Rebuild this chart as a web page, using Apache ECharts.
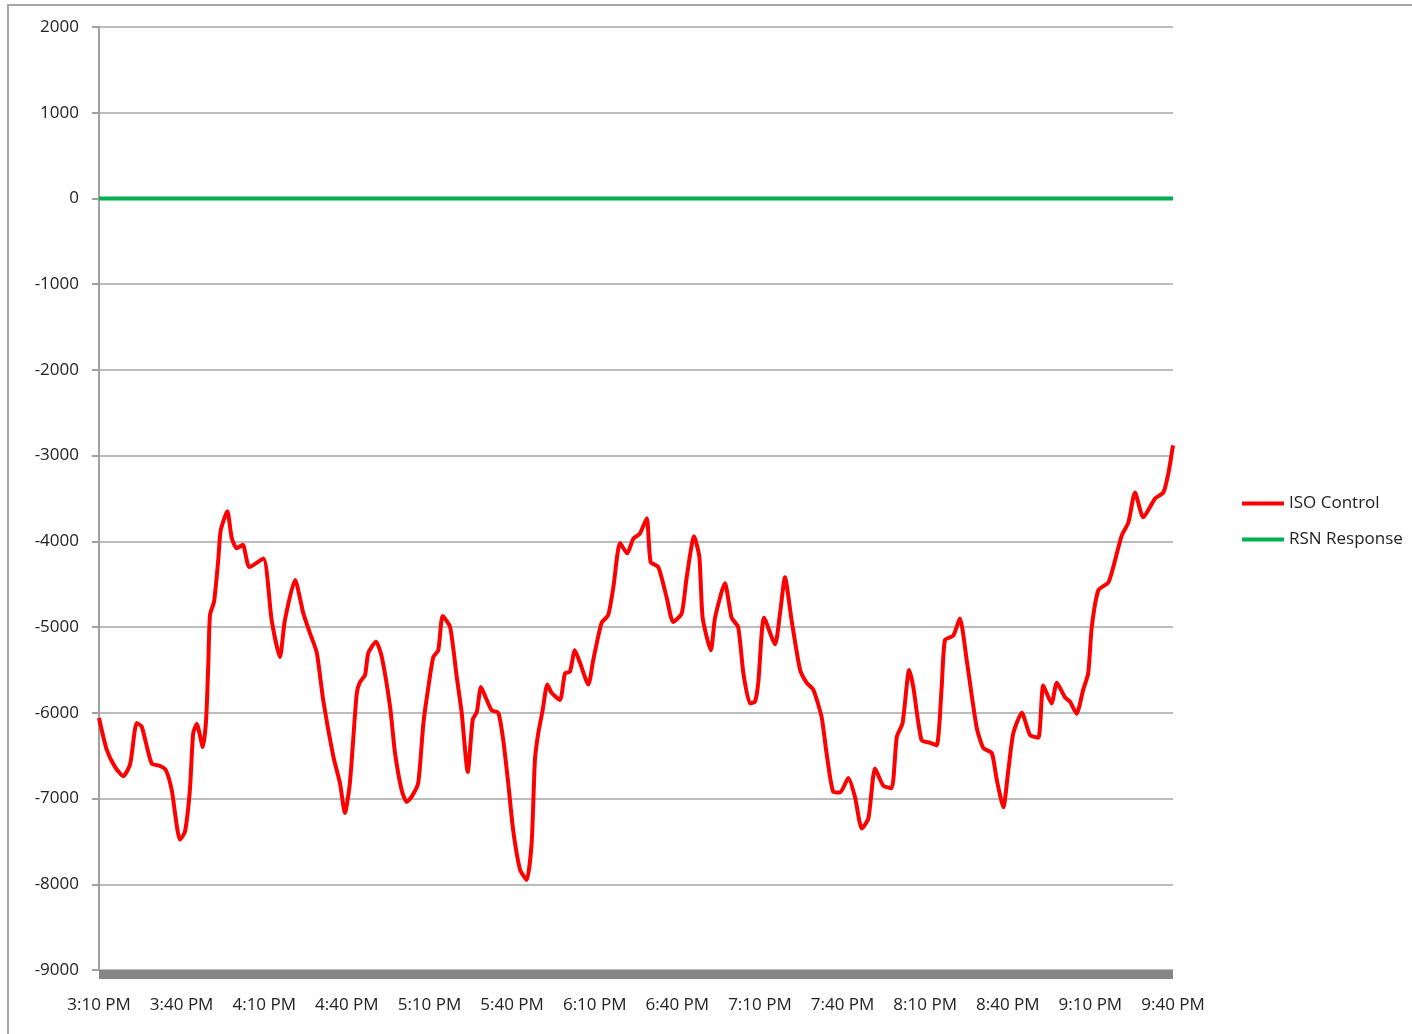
<!DOCTYPE html>
<html>
<head>
<meta charset="utf-8">
<title>ISO Control vs RSN Response</title>
<script src="https://cdn.jsdelivr.net/npm/echarts@6/dist/echarts.min.js"></script>
<style>
  html, body { margin: 0; padding: 0; background: #fff; }
  #main { width: 1412px; height: 1034px; }
</style>
</head>
<body>
<div id="main"></div>
<script>
// x values are minutes after 3:10 PM
var tickLabels = ['3:10 PM', '3:40 PM', '4:10 PM', '4:40 PM', '5:10 PM', '5:40 PM', '6:10 PM',
  '6:40 PM', '7:10 PM', '7:40 PM', '8:10 PM', '8:40 PM', '9:10 PM', '9:40 PM']

var isoMinutes = [0, 2.8, 5.8, 8.8, 11.3, 13.7, 15.5, 19.1, 22.2, 24.3, 26.4, 29.4, 31.2, 33.0,
  34.2, 35.5, 37.7, 38.9, 39.7, 40.3, 41.8, 43.3, 44.2, 46.6, 48.2, 50.0, 52.2, 54.6, 59.7,
  62.7, 65.7, 67.5, 71.2, 74.2, 76.6, 79.1, 81.4, 85.1, 87.5, 89.3, 91.1, 93.6, 94.8, 96.6,
  97.8, 100.6, 102.7, 105.7, 107.5, 109.9, 111.7, 113.5, 115.9, 117.8, 119.6, 121.4, 123.2,
  124.8, 127.5, 129.9, 131.7, 133.9, 135.7, 137.2, 138.7, 140.8, 142.6, 145.0, 146.8, 148.6,
  150.4, 152.9, 155.3, 157.1, 158.3, 159.5, 161.1, 162.8, 164.4, 167.4, 169.2, 171.0, 172.8,
  174.7, 177.7, 179.5, 182.5, 184.9, 186.8, 189.2, 191.8, 194.0, 196.4, 198.9, 200.3, 203.1,
  206.1, 208.5, 211.6, 213.4, 216.1, 218.0, 219.2, 222.2, 223.7, 227.3, 229.7, 232.1, 234.0,
  236.4, 238.2, 239.4, 241.5, 245.5, 247.3, 249.1, 251.5, 254.6, 257.0, 259.4, 262.4, 264.2,
  266.6, 269.1, 272.1, 274.5, 277.0, 279.4, 281.8, 284.8, 287.8, 289.7, 291.8, 294.2, 295.7,
  298.7, 301.8, 304.2, 306.0, 307.2, 310.2, 312.6, 315.1, 318.7, 321.1, 324.2, 326.0, 328.4,
  330.2, 332.0, 335.1, 338.1, 341.1, 342.9, 345.9, 347.8, 350.8, 352.6, 355.0, 357.4, 359.2,
  360.5, 362.9, 366.5, 368.3, 371.4, 373.8, 376.2, 379.2, 383.5, 386.5, 388.3, 390]

var isoValues = [-6060, -6430, -6630, -6740, -6600, -6120, -6160, -6590, -6620, -6670, -6900, -7480, -7390, -6900,
  -6240, -6130, -6400, -6080, -5420, -4860, -4700, -4220, -3870, -3650, -3960, -4080, -4040, -4300, -4200,
  -4920, -5350, -4920, -4450, -4840, -5070, -5300, -5850, -6510, -6820, -7170, -6820, -5770, -5640, -5560,
  -5300, -5170, -5350, -5930, -6470, -6900, -7040, -6980, -6820, -6120, -5700, -5350, -5270,
  -4870, -5000, -5580, -6000, -6690, -6080, -5990, -5700, -5850, -5970, -6000, -6320, -6820,
  -7370, -7830, -7950, -7520, -6550, -6240, -5970, -5670, -5770, -5850, -5540, -5520, -5270,
  -5420, -5670, -5380, -4950, -4860, -4530, -4020, -4140, -3970, -3910, -3730, -4240, -4300,
  -4650, -4940, -4840, -4420, -3940, -4180, -4890, -5270, -4890, -4490, -4890, -5000, -5540,
  -5890, -5870, -5650, -4890, -5200, -4840, -4420, -4920, -5500, -5650, -5730, -6050, -6470,
  -6920, -6930, -6760, -6980, -7350, -7230, -6650, -6850, -6880, -6280, -6120, -5500, -5700,
  -6320, -6350, -6380, -5700, -5150, -5100, -4900, -5390, -6170, -6410, -6470, -6780, -7100,
  -6670, -6240, -6000, -6260, -6290, -5680, -5890, -5650, -5820, -5870, -6010, -5730, -5540,
  -5000, -4570, -4480, -4300, -3930, -3780, -3430, -3720, -3500, -3430, -3210, -2880]

var rsnMinutes = [0, 390]
var rsnValues = [0, 0]

function pairs (xs, ys) {
  return xs.map(function (x, i) { return [x, ys[i]] })
}

var labelFont = '"Open Sans", "Noto Sans", sans-serif'

var myChart = echarts.init(document.getElementById('main'))
myChart.setOption({
  animation: false,
  backgroundColor: '#fff',
  graphic: [{
    type: 'rect',
    shape: { x: 8, y: 5, width: 1420, height: 1040 },
    style: { fill: 'none', stroke: '#a6a6a6', lineWidth: 2 },
    silent: true
  }],
  grid: { left: 99, top: 27, right: 239, bottom: 64 },
  legend: {
    orient: 'vertical',
    left: 1242,
    top: 495,
    padding: 0,
    itemWidth: 42,
    itemHeight: 4,
    itemGap: 19,
    icon: 'rect',
    textStyle: { fontFamily: labelFont, fontSize: 17, color: '#222' },
    data: ['ISO Control', 'RSN Response']
  },
  xAxis: {
    type: 'value',
    min: 0,
    max: 390,
    interval: 30,
    offset: 4,
    axisLine: { show: true, onZero: false, lineStyle: { color: '#868686', width: 9, cap: 'butt' } },
    axisTick: { show: false },
    splitLine: { show: false },
    axisLabel: {
      margin: 23,
      fontFamily: labelFont,
      fontSize: 17,
      color: '#222',
      formatter: function (v) { return tickLabels[Math.round(v / 30)] }
    }
  },
  yAxis: {
    type: 'value',
    min: -9000,
    max: 2000,
    interval: 1000,
    axisLine: { show: true, lineStyle: { color: '#a0a0a0', width: 2 } },
    axisTick: { show: true, length: 7, lineStyle: { color: '#a0a0a0', width: 2 } },
    splitLine: { show: true, lineStyle: { color: '#a6a6a6', width: 1.5 } },
    axisLabel: {
      margin: 20,
      fontFamily: labelFont,
      fontSize: 17,
      color: '#222',
      formatter: function (v) { return String(v) }
    }
  },
  series: [
    {
      name: 'ISO Control',
      type: 'line',
      data: pairs(isoMinutes, isoValues),
      showSymbol: false,
      smooth: 0.2,
      itemStyle: { color: '#ff0000' },
      lineStyle: { color: '#ff0000', width: 4 }
    },
    {
      name: 'RSN Response',
      type: 'line',
      data: pairs(rsnMinutes, rsnValues),
      showSymbol: false,
      itemStyle: { color: '#00b050' },
      lineStyle: { color: '#00b050', width: 4 }
    }
  ]
})
</script>
</body>
</html>
